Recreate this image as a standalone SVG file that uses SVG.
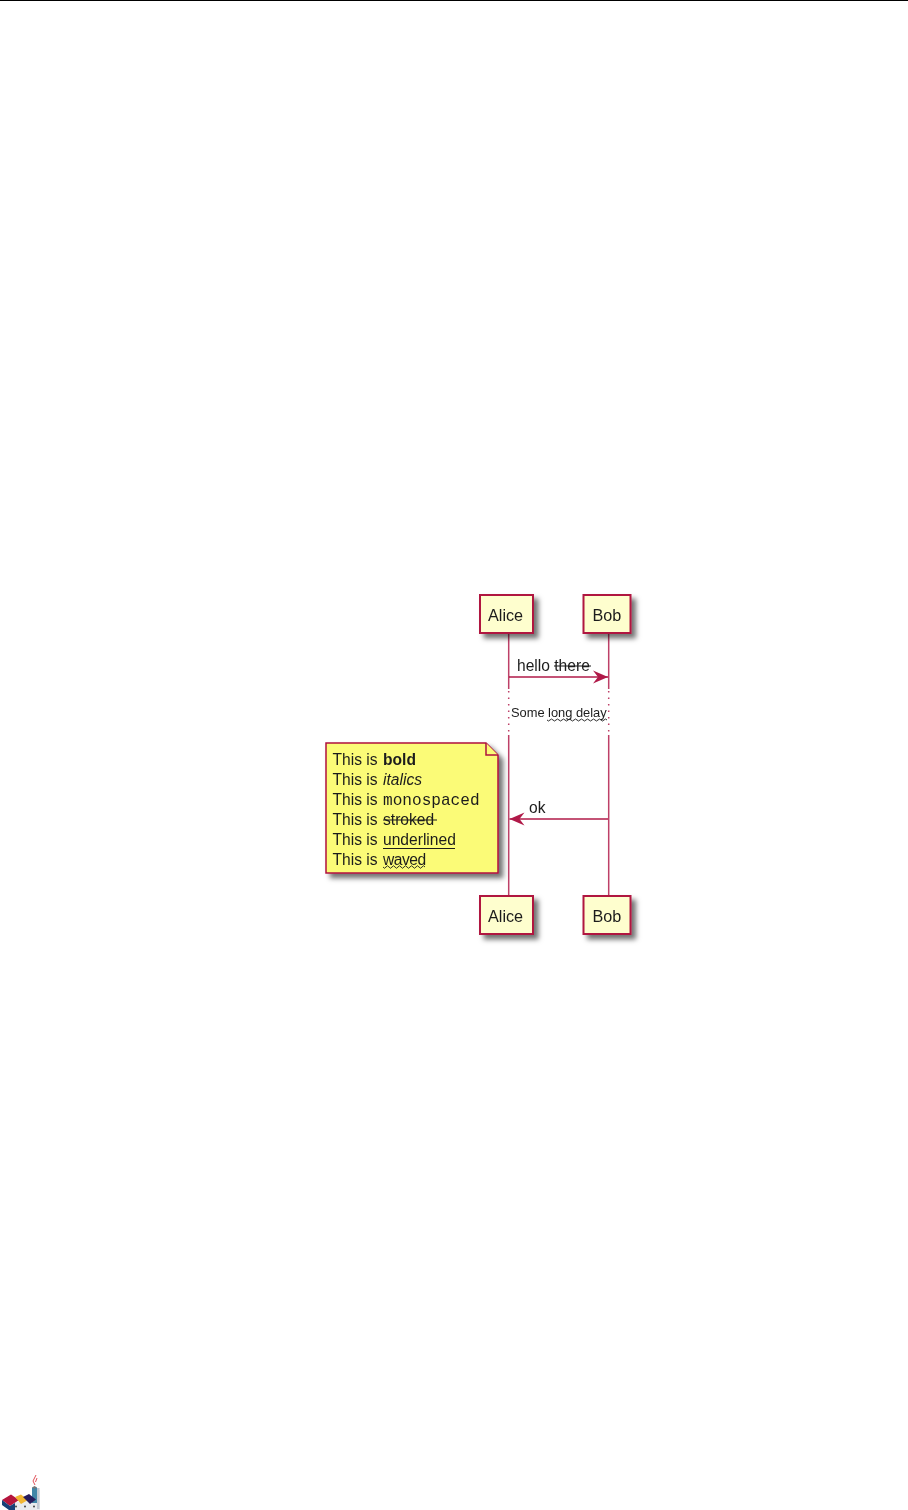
<svg xmlns="http://www.w3.org/2000/svg" width="908" height="1510" viewBox="0 0 908 1510">
<style>
text{font-family:"Liberation Sans",Arial,sans-serif;fill:#1c1c1c}
.t{font-size:16.2px}
.h{font-size:15.6px}
.n{font-size:15.6px}
.d{font-size:12.9px}
.m{font-family:"Liberation Mono","Courier New",monospace;font-size:16.1px}
.box{fill:#fefece;stroke:#b0123f;stroke-width:2}
.note{fill:#fbfb77;stroke:#b0123f;stroke-width:1.5}
.life{stroke:#a80036;stroke-width:1.5;opacity:.75;fill:none}
.dot{stroke-dasharray:1.5 5}
.msg{stroke:#a80036;stroke-width:1.4;fill:none;opacity:.9}
.st{stroke:#1c1c1c;stroke-width:1.2;fill:none}
.wv{stroke:#1c1c1c;stroke-width:.9;fill:none}
.sh{filter:url(#s)}
.soft{filter:url(#b)}
</style>
<defs>
<filter id="s" x="-20%" y="-20%" width="150%" height="150%"><feDropShadow dx="4.500" dy="4.500" stdDeviation="2.500" flood-color="#000" flood-opacity=".55"/></filter>
<filter id="b" x="0" y="0" width="908" height="1510" filterUnits="userSpaceOnUse"><feGaussianBlur stdDeviation=".35"/></filter>
<marker id="a" markerUnits="userSpaceOnUse" markerWidth="16" markerHeight="14" refX="15" refY="7" orient="auto"><path d="M0 .5L15 7L0 13.500L5 7Z" fill="#a80036"/></marker>
</defs>
<rect width="908" height="1510" fill="#fff"/>
<rect width="908" height="1" fill="#000"/>
<g class="soft">
<g id="connectors">
<path class="life" d="M508.700 634V689M508.700 735V896M608.700 634V689M608.700 735V896"/>
<path class="life dot" d="M508.700 691V735M608.700 691V735"/>
<path class="msg" marker-end="url(#a)" d="M509 677H608"/>
<path class="msg" marker-end="url(#a)" d="M608 819H509.500"/>
</g>
<g id="alice-top"><rect class="box sh" x="480" y="595" width="53" height="38"/><text class="t" x="488" y="620.500">Alice</text></g>
<g id="bob-top"><rect class="box sh" x="583.500" y="595" width="47" height="38"/><text class="t" x="592.500" y="620.500">Bob</text></g>
<g id="alice-bottom"><rect class="box sh" x="480" y="896" width="53" height="38"/><text class="t" x="488" y="921.500">Alice</text></g>
<g id="bob-bottom"><rect class="box sh" x="583.500" y="896" width="47" height="38"/><text class="t" x="592.500" y="921.500">Bob</text></g>
<g id="msg-hello"><text class="h" x="517" y="671">hello there</text><path class="st" d="M554 666H591"/></g>
<g id="delay"><text class="d" x="511" y="717" style="letter-spacing:-.03px">Some long delay</text><path class="wv" d="M547 720q1.500 2 3 0t3 0t3 0t3 0t3 0t3 0t3 0t3 0t3 0t3 0t3 0t3 0t3 0t3 0t3 0t3 0t3 0t3 0t3 0t3 0"/></g>
<g id="msg-ok"><text class="h" x="529" y="813">ok</text></g>
<g id="note">
<path class="note sh" d="M326 743H486L498 755V873H326Z"/>
<path class="note" d="M486 743V755H498"/>
<text class="n" x="332.500" y="765">This is <tspan x="383" font-weight="bold">bold</tspan></text>
<text class="n" x="332.500" y="785">This is <tspan x="383" font-style="italic">italics</tspan></text>
<text class="n" x="332.500" y="805">This is <tspan x="383" class="m">monospaced</tspan></text>
<text class="n" x="332.500" y="825">This is <tspan x="383">stroked</tspan></text>
<path class="st" d="M383 820H437"/>
<text class="n" x="332.500" y="845">This is <tspan x="383">underlined</tspan></text>
<path class="st" d="M383 848.500H455"/>
<text class="n" x="332.500" y="865">This is <tspan x="383" style="letter-spacing:-.5px">waved</tspan></text>
<path class="wv" d="M383 867q1.500 2.500 3 0t3 0t3 0t3 0t3 0t3 0t3 0t3 0t3 0t3 0t3 0t3 0t3 0t3 0"/>
</g>
<g id="logo">
<path d="M14 1503L33 1497V1490H40V1510H14Z" fill="#e8ebee"/>
<path d="M32 1487.500H37V1503H32Z" fill="#3f86a8"/>
<path d="M37 1488V1509H39.500V1488Z" fill="#c2c8d2"/>
<path d="M32 1487.500L34.500 1486L37 1487.500L34.500 1489Z" fill="#777"/>
<path d="M2 1500L11 1494.500L19 1500L10 1506Z" fill="#b5123c"/>
<path d="M2 1500L10 1506L15 1503V1510H9L2 1505Z" fill="#123f78"/>
<path d="M15 1497L21 1494.500L28 1500L21 1504Z" fill="#f2b632"/>
<path d="M23 1497L29 1494L36 1499.500L30 1504Z" fill="#251a5c"/>
<path d="M36 1475L33 1481L35 1485M37 1478L35.500 1482" stroke="#e0505a" stroke-width="1" fill="none"/>
<g fill="#444"><circle cx="16" cy="1506.500" r="1"/><circle cx="25" cy="1506.500" r="1"/><circle cx="34" cy="1506.500" r="1"/></g>
</g>
</g>
</svg>
